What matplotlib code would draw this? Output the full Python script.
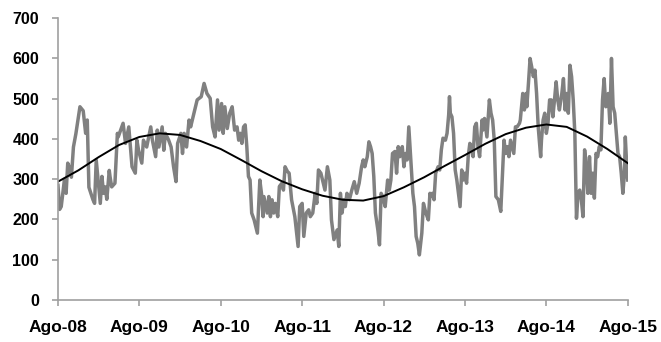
import matplotlib
matplotlib.use("Agg")
import matplotlib.pyplot as plt

plt.rcParams['font.family'] = ['Liberation Sans', 'DejaVu Sans']

### years since Aug-2008 and weekly-ish values
t_obs = [0.00, 0.02, 0.04, 0.08, 0.10, 0.12, 0.14, 0.165, 0.19, 0.22, 0.27, 0.31, 0.34, 0.36, 0.38,
         0.43, 0.45, 0.47, 0.52, 0.54, 0.56, 0.58, 0.60, 0.63, 0.64, 0.66, 0.70, 0.73, 0.74, 0.80,
         0.83, 0.87, 0.89, 0.91, 0.95, 0.97, 0.99, 1.03, 1.05, 1.09, 1.14, 1.16, 1.20, 1.22, 1.24,
         1.28, 1.30, 1.32, 1.36, 1.39, 1.42, 1.45, 1.47, 1.51, 1.53, 1.55, 1.58, 1.61, 1.63, 1.67,
         1.71, 1.76, 1.795, 1.83, 1.87, 1.90, 1.93, 1.96, 1.98, 2.01, 2.03, 2.05, 2.08, 2.11, 2.14,
         2.17, 2.20, 2.22, 2.24, 2.26, 2.28, 2.30, 2.32, 2.34, 2.36, 2.38, 2.41, 2.45, 2.48, 2.50,
         2.52, 2.53, 2.57, 2.59, 2.61, 2.63, 2.65, 2.67, 2.70, 2.72, 2.75, 2.77, 2.79, 2.82, 2.84,
         2.87, 2.91, 2.95, 2.97, 3.00, 3.02, 3.05, 3.08, 3.10, 3.13, 3.16, 3.18, 3.20, 3.23, 3.25,
         3.28, 3.31, 3.34, 3.36, 3.39, 3.43, 3.45, 3.47, 3.49, 3.51, 3.53, 3.55, 3.58, 3.61, 3.64,
         3.67, 3.70, 3.73, 3.75, 3.77, 3.80, 3.82, 3.84, 3.86, 3.88, 3.90, 3.93, 3.95, 3.97, 3.99,
         4.02, 4.05, 4.07, 4.09, 4.11, 4.14, 4.16, 4.18, 4.20, 4.23, 4.25, 4.27, 4.29, 4.31, 4.33,
         4.36, 4.38, 4.40, 4.42, 4.44, 4.47, 4.49, 4.52, 4.55, 4.57, 4.58, 4.60, 4.62, 4.64, 4.67,
         4.69, 4.71, 4.73, 4.76, 4.78, 4.80, 4.81, 4.82, 4.84, 4.86, 4.88, 4.90, 4.92, 4.94, 4.96,
         4.98, 5.00, 5.02, 5.04, 5.06, 5.08, 5.10, 5.12, 5.14, 5.16, 5.18, 5.21, 5.22, 5.24, 5.27,
         5.29, 5.30, 5.32, 5.34, 5.36, 5.38, 5.41, 5.44, 5.46, 5.48, 5.50, 5.52, 5.54, 5.56, 5.58,
         5.60, 5.62, 5.64, 5.67, 5.68, 5.71, 5.73, 5.75, 5.76, 5.78, 5.80, 5.82, 5.84, 5.86, 5.88,
         5.90, 5.93, 5.94, 5.96, 5.98, 6.00, 6.02, 6.04, 6.06, 6.08, 6.10, 6.12, 6.14, 6.16, 6.19,
         6.21, 6.23, 6.25, 6.27, 6.29, 6.31, 6.33, 6.35, 6.37, 6.39, 6.41, 6.43, 6.45, 6.47, 6.49,
         6.51, 6.53, 6.55, 6.57, 6.59, 6.61, 6.63, 6.65, 6.67, 6.69, 6.71, 6.73, 6.76, 6.78, 6.80,
         6.82, 6.84, 6.86, 6.88, 6.90, 6.92, 6.94, 6.96, 6.97, 6.99, 7.00]
v_obs = [285, 225, 232, 300, 265, 340, 330, 305, 380, 413, 480, 470, 414, 447, 280,
         249, 240, 348, 240, 307, 265, 281, 250, 322, 306, 281, 290, 414, 405, 439,
         389, 430, 380, 331, 315, 397, 372, 340, 397, 380, 430, 397, 356, 422, 380,
         430, 372, 414, 397, 380, 331, 294, 389, 414, 364, 414, 380, 447, 430, 464,
         497, 505, 538, 513, 501, 430, 405, 497, 422, 488, 414, 480, 426, 464, 480,
         422, 430, 397, 414, 389, 430, 435, 381, 307, 298, 216, 199, 166, 298, 265,
         207, 257, 216, 257, 207, 249, 216, 240, 207, 282, 290, 273, 331, 319, 315,
         249, 207, 133, 232, 240, 158, 216, 224, 207, 216, 265, 240, 323, 315, 298,
         273, 331, 298, 199, 150, 174, 133, 265, 216, 249, 232, 265, 249, 273, 294,
         265, 290, 331, 348, 331, 356, 393, 381, 364, 307, 216, 174, 137, 265, 257,
         232, 298, 273, 298, 364, 369, 315, 381, 356, 381, 331, 364, 348, 430, 364,
         265, 232, 158, 141, 112, 166, 240, 216, 199, 265, 257, 265, 249, 315, 331,
         323, 373, 402, 397, 414, 460, 505, 464, 455, 414, 323, 298, 265, 232, 323,
         298, 315, 290, 356, 389, 381, 356, 430, 439, 381, 356, 447, 422, 451, 405,
         464, 497, 464, 447, 397, 257, 249, 220, 307, 397, 364, 381, 356, 397, 381,
         364, 430, 430, 439, 447, 513, 472, 513, 480, 538, 600, 579, 555, 571, 513,
         430, 356, 397, 447, 464, 414, 439, 497, 497, 455, 497, 542, 497, 472, 513,
         550, 472, 513, 464, 583, 555, 497, 414, 203, 265, 273, 249, 207, 373, 331,
         265, 356, 265, 315, 253, 364, 356, 381, 373, 497, 550, 480, 513, 439, 600,
         480, 464, 414, 364, 356, 315, 265, 315, 405, 323, 298]

### smooth trend (black)
t_trend = [0.0, 0.25, 0.5, 0.75, 1.0, 1.25, 1.5, 1.75, 2.0, 2.25, 2.5, 2.75, 3.0, 3.25, 3.5,
           3.75, 4.0, 4.25, 4.5, 4.75, 5.0, 5.25, 5.5, 5.75, 6.0, 6.25, 6.5, 6.75, 7.0]
v_trend = [294, 322, 355, 385, 405, 414, 410, 395, 375, 348, 320, 295, 275, 259, 249,
           247, 258, 280, 305, 333, 360, 388, 412, 428, 436, 430, 406, 375, 340]

xlabels = ['Ago-08', 'Ago-09', 'Ago-10', 'Ago-11', 'Ago-12', 'Ago-13', 'Ago-14', 'Ago-15']
yticks = [0, 100, 200, 300, 400, 500, 600, 700]

fig = plt.figure(figsize=(6.61, 3.42), dpi=100)
ax = fig.add_axes([0.0877, 0.1228, 0.862, 0.824])

ax.plot(t_obs, v_obs, color='#808080', lw=2.5, solid_joinstyle='round')
ax.plot(t_trend, v_trend, color='black', lw=1.4)

ax.set_xlim(0, 7)
ax.set_ylim(0, 700)
ax.set_xticks(range(len(xlabels)))
ax.set_xticklabels(xlabels, fontsize=12.5, fontweight='bold')
ax.set_yticks(yticks)
ax.set_yticklabels([str(v) for v in yticks], fontsize=11.5, fontweight='bold')

for s in ['top', 'right']:
    ax.spines[s].set_visible(False)
for s in ['left', 'bottom']:
    ax.spines[s].set_color('#a0a0a0')
    ax.spines[s].set_linewidth(1.2)

ax.tick_params(axis='both', colors='#a0a0a0', length=4.5, width=1.2, labelcolor='black')
ax.tick_params(axis='x', pad=10)
ax.tick_params(axis='y', pad=9)

fig.savefig('out.png', dpi=100)
